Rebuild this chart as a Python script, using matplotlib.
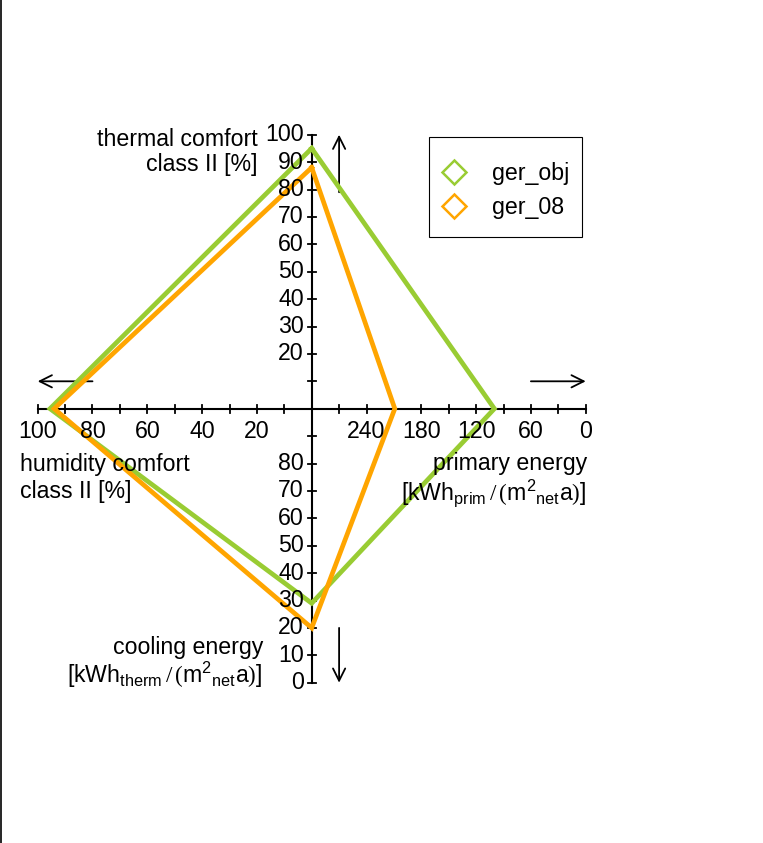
import numpy as np
import matplotlib.pyplot as plt
from matplotlib.lines import Line2D
from matplotlib.patches import Rectangle

plt.rcParams['font.family'] = ['Liberation Sans', 'DejaVu Sans']
plt.rcParams['mathtext.fontset'] = 'custom'
plt.rcParams['mathtext.rm'] = 'Liberation Sans'
plt.rcParams['mathtext.it'] = 'Liberation Sans:italic'
plt.rcParams['mathtext.sf'] = 'Liberation Serif'

# data: thermal comfort, primary energy, cooling energy, humidity comfort
series_names = ["ger_obj", "ger_08"]
series_colors = ["#99CC33", "#FFA500"]
thermal = [95, 88]          # % (up axis, 0..100)
primary = [100, 209]        # kWh/(m2 a) (right axis, 300 at centre .. 0 at end)
cooling = [29, 20]          # kWh/(m2 a) (down axis, 100 at centre .. 0 at end)
humidity = [95.5, 94]       # % (left axis, 0..100)

up_ticks = [20, 30, 40, 50, 60, 70, 80, 90, 100]
left_ticks = [20, 40, 60, 80, 100]
right_ticks = [240, 180, 120, 60, 0]
down_ticks = [80, 70, 60, 50, 40, 30, 20, 10, 0]

PRIM_MAX = 300.0
COOL_MAX = 100.0


def up(v):
    return 0.0, v / 100.0


def right(v):
    return (PRIM_MAX - v) / PRIM_MAX, 0.0


def down(v):
    return 0.0, -(COOL_MAX - v) / COOL_MAX


def left(v):
    return -v / 100.0, 0.0


W, H = 763, 843
R = 274.0          # pixels per unit radius
cx, cy = 311.7, H - 408.7


def px(x, y):
    # pixel position (from top-left) -> data coords
    return (x - cx) / R, (H - y - cy) / R


fig = plt.figure(figsize=(W / 100, H / 100), dpi=100)
ax = fig.add_axes([0, 0, 1, 1])
ax.set_xlim(-cx / R, (W - cx) / R)
ax.set_ylim(-cy / R, (H - cy) / R)
ax.axis('off')

# axes cross
ax.plot([-1, 1], [0, 0], color='black', lw=1.5, zorder=2)
ax.plot([0, 0], [-1, 1], color='black', lw=1.5, zorder=2)
tk = 4.0 / R
for t in np.arange(-10, 11) / 10.0:
    ax.plot([t, t], [-tk, tk], color='black', lw=1.3, zorder=2)
    ax.plot([-tk, tk], [t, t], color='black', lw=1.3, zorder=2)

fs = 16.7
off = 8.0 / R
for v in up_ticks:
    x, y = up(v)
    ax.text(x - off, y, str(v), ha='right', va='center', fontsize=fs, zorder=5)
for v in down_ticks:
    x, y = down(v)
    ax.text(x - off, y, str(v), ha='right', va='center', fontsize=fs, zorder=5)
for v in left_ticks:
    x, y = left(v)
    ax.text(x, y - 23.0 / R, str(v), ha='center', va='center', fontsize=fs, zorder=5)
for v in right_ticks:
    x, y = right(v)
    ax.text(x, y - 23.0 / R, str(v), ha='center', va='center', fontsize=fs, zorder=5)

# arrows
ap = dict(arrowstyle='->', lw=1.3, color='black', mutation_scale=22, shrinkA=0, shrinkB=0)
ax.annotate("", xy=(0.1, 1.0), xytext=(0.1, 0.79), arrowprops=ap)
ax.annotate("", xy=(0.1, -1.0), xytext=(0.1, -0.8), arrowprops=ap)
ax.annotate("", xy=(-1.0, 0.1), xytext=(-0.8, 0.1), arrowprops=ap)
ax.annotate("", xy=(1.0, 0.1), xytext=(0.8, 0.1), arrowprops=ap)

# series polygons
handles = []
for i, name in enumerate(series_names):
    pts = [up(thermal[i]), right(primary[i]), down(cooling[i]), left(humidity[i]), up(thermal[i])]
    xs = [p[0] for p in pts]
    ys = [p[1] for p in pts]
    ax.plot(xs, ys, color=series_colors[i], lw=3.4, solid_joinstyle='miter', zorder=3 + i * 0.1)
    handles.append(Line2D([], [], ls='none', marker='D', markersize=12,
                          markerfacecolor='none', markeredgecolor=series_colors[i],
                          markeredgewidth=1.8, label=name))

# axis titles (one text per line)
unit_prim = r"[kWh$_{\mathrm{prim}}\mathsf{\,/\,(}\mathrm{m}^{2}{}_{\mathrm{net}}\mathrm{a}\mathsf{)}$]"
unit_therm = r"[kWh$_{\mathrm{therm}}\mathsf{\,/\,(}\mathrm{m}^{2}{}_{\mathrm{net}}\mathrm{a}\mathsf{)}$]"
titles = [
    ("thermal comfort", 258, 146, 'right'),
    ("class II [%]", 257, 171, 'right'),
    ("humidity comfort", 20, 471, 'left'),
    ("class II [%]", 20, 498, 'left'),
    ("primary energy", 587, 470, 'right'),
    (unit_prim, 586, 500, 'right'),
    ("cooling energy", 263, 654, 'right'),
    (unit_therm, 262, 683, 'right'),
]
for s, x, y, ha in titles:
    ax.text(*px(x, y), s, ha=ha, va='baseline', fontsize=fs, zorder=5)

# legend: frame drawn as rectangle, entries centred inside
ax.add_patch(Rectangle((429 / W, 1 - 237 / H), 153 / W, 100 / H, transform=fig.transFigure,
                       facecolor='white', edgecolor='black', lw=0.8, zorder=4))
leg = ax.legend(handles=handles, loc='center',
                bbox_to_anchor=(506 / W, 1 - 190.5 / H), bbox_transform=fig.transFigure,
                borderaxespad=0, fontsize=fs, frameon=False, borderpad=0,
                handlelength=1.0, handletextpad=1.14, labelspacing=0.47)
leg.set_zorder(6)

fig.add_artist(Line2D([0.8 / W, 0.8 / W], [0, 1], transform=fig.transFigure, color='black', lw=1.2))

fig.savefig("out.png", dpi=100)
